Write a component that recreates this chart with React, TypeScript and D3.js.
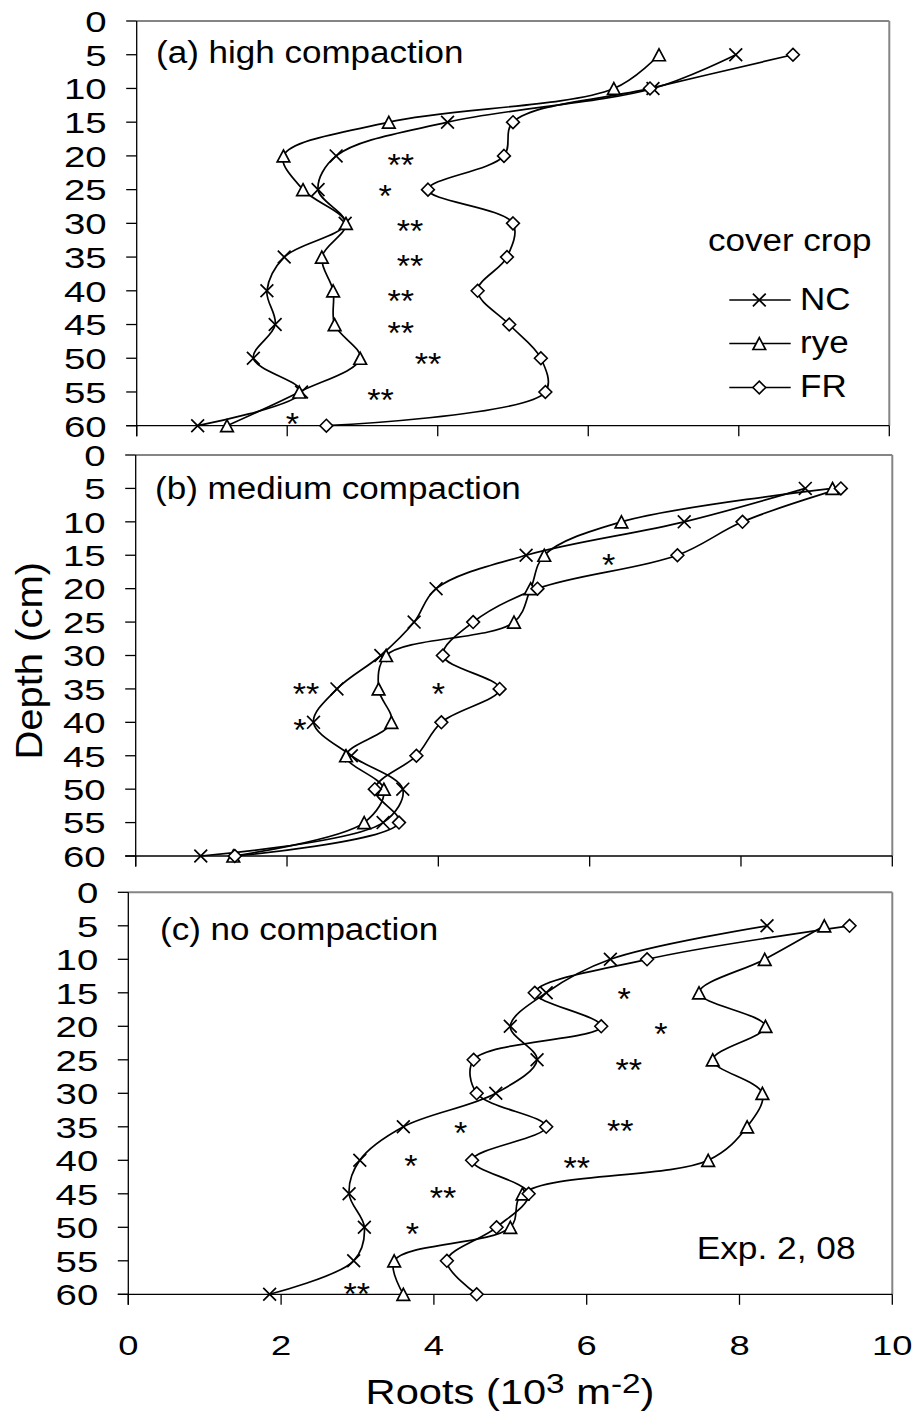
import React from 'react';
import * as d3 from 'd3';

// ---------- data ----------
const depths = [5, 10, 15, 20, 25, 30, 35, 40, 45, 50, 55, 60];
const yTicks = [0, 5, 10, 15, 20, 25, 30, 35, 40, 45, 50, 55, 60];
const xTicks = [0, 2, 4, 6, 8, 10];
const seriesNames = ['NC', 'rye', 'FR'];

// (a) high compaction
const highNC = [7.96, 6.86, 4.13, 2.65, 2.41, 2.77, 1.96, 1.73, 1.84, 1.55, 2.19, 0.81];
const highRye = [6.94, 6.34, 3.35, 1.95, 2.21, 2.78, 2.46, 2.61, 2.63, 2.97, 2.16, 1.2];
const highFR = [8.72, 6.82, 5.0, 4.88, 3.87, 5.0, 4.92, 4.53, 4.95, 5.37, 5.43, 2.52];

// (b) medium compaction
const medNC = [8.85, 7.25, 5.16, 3.97, 3.68, 3.24, 2.66, 2.35, 2.85, 3.53, 3.27, 0.86];
const medRye = [9.21, 6.42, 5.4, 5.22, 5.0, 3.31, 3.21, 3.38, 2.78, 3.28, 3.02, 1.29];
const medFR = [9.32, 8.02, 7.16, 5.31, 4.46, 4.06, 4.81, 4.04, 3.71, 3.16, 3.48, 1.31];

// (c) no compaction
const noNC = [8.36, 6.31, 5.47, 5.0, 5.35, 4.81, 3.6, 3.03, 2.89, 3.09, 2.95, 1.85];
const noRye = [9.11, 8.33, 7.47, 8.34, 7.65, 8.3, 8.1, 7.59, 5.16, 5.0, 3.48, 3.6];
const noFR = [9.44, 6.79, 5.32, 6.19, 4.52, 4.56, 5.47, 4.5, 5.24, 4.82, 4.17, 4.56];

// significance marks: [x value, depth, label]
const highStars: [number, number, string][] = [
  [3.51, 20.5, '**'], [3.3, 25, '*'], [3.63, 30.3, '**'], [3.63, 35.4, '**'],
  [3.51, 40.6, '**'], [3.51, 45.3, '**'], [3.87, 50, '**'], [3.24, 55.3, '**'], [2.07, 58.9, '*'],
];
const medStars: [number, number, string][] = [
  [6.25, 15.5, '*'], [2.25, 34.9, '**'], [4.0, 34.9, '*'], [2.17, 40.2, '*'],
];
const noStars: [number, number, string][] = [
  [6.49, 15.1, '*'], [6.97, 20.3, '*'], [6.55, 25.6, '**'], [6.44, 34.8, '**'],
  [5.87, 40.2, '**'], [4.35, 35, '*'], [3.7, 40, '*'], [4.12, 44.8, '**'],
  [3.72, 50.1, '*'], [2.99, 59, '**'],
];

const FONT = "'Liberation Sans', Arial, Helvetica, sans-serif";

function T({ x, y, size, sx = 1, anchor = 'start', rotate = 0, children }: any) {
  return (
    <text
      transform={`translate(${x},${y}) rotate(${rotate}) scale(${sx},1)`}
      fontSize={size}
      textAnchor={anchor}
      fontFamily={FONT}
      fill="#000"
    >
      {children}
    </text>
  );
}

function Marker({ kind, x, y }: { kind: string; x: number; y: number }) {
  const s = 6.4;
  if (kind === 'NC') {
    return (
      <path
        d={`M${x - s},${y - s}L${x + s},${y + s}M${x - s},${y + s}L${x + s},${y - s}`}
        stroke="#000"
        strokeWidth={1.7}
        fill="none"
      />
    );
  }
  if (kind === 'rye') {
    return (
      <path
        d={`M${x},${y - 5.9}L${x + 6.3},${y + 6}L${x - 6.3},${y + 6}Z`}
        stroke="#000"
        strokeWidth={1.7}
        fill="#fff"
      />
    );
  }
  return (
    <path
      d={`M${x},${y - s}L${x + s},${y}L${x},${y + s}L${x - s},${y}Z`}
      stroke="#000"
      strokeWidth={1.6}
      fill="#fff"
    />
  );
}

function Panel({ left, right, top, bottom, title, titleY, titleX, series, stars }: any) {
  const x = d3.scaleLinear().domain([0, 10]).range([left, right]);
  const y = d3.scaleLinear().domain([0, 60]).range([top, bottom]);
  const line = d3
    .line<[number, number]>()
    .x((d) => x(d[0]))
    .y((d) => y(d[1]))
    .curve(d3.curveCatmullRom.alpha(0.5));
  const tickLen = 10.5;
  return (
    <g>
      {/* frame */}
      <line x1={left} x2={right} y1={top} y2={top} stroke="#858585" strokeWidth={2} />
      <line x1={right} x2={right} y1={top} y2={bottom} stroke="#858585" strokeWidth={2} />
      {/* y axis */}
      <line x1={left} x2={left} y1={top} y2={bottom + tickLen} stroke="#000" strokeWidth={1.3} />
      {yTicks.map((t) => (
        <g key={'y' + t}>
          <line x1={left - tickLen} x2={left} y1={y(t)} y2={y(t)} stroke="#000" strokeWidth={1.3} />
          <T x={left - 30} y={y(t) + 10.8} size={30} sx={1.28} anchor="end">
            {t}
          </T>
        </g>
      ))}
      {/* x axis */}
      <line x1={left - tickLen} x2={right} y1={bottom} y2={bottom} stroke="#000" strokeWidth={1.3} />
      {xTicks.map((t) => (
        <line key={'x' + t} x1={x(t)} x2={x(t)} y1={bottom} y2={bottom + tickLen} stroke="#000" strokeWidth={1.3} />
      ))}
      <T x={titleX} y={titleY} size={31} sx={1.13}>
        {title}
      </T>
      {/* lines */}
      {series.map((s: any) => (
        <path
          key={'l' + s.name}
          d={line(s.values.map((v: number, i: number) => [v, depths[i]]) as [number, number][]) || ''}
          fill="none"
          stroke="#000"
          strokeWidth={1.7}
        />
      ))}
      {/* markers */}
      {series.map((s: any) =>
        s.values.map((v: number, i: number) => (
          <Marker key={s.name + i} kind={s.name} x={x(v)} y={y(depths[i])} />
        ))
      )}
      {/* significance */}
      {stars.map((s: [number, number, string], i: number) => (
        <T key={'s' + i} x={x(s[0])} y={y(s[1]) + 17} size={31} sx={1.1} anchor="middle">
          {s[2]}
        </T>
      ))}
    </g>
  );
}

export default function App() {
  const panels = [
    {
      left: 136.7, right: 889.3, top: 21, bottom: 425.7,
      title: '(a) high compaction', titleX: 156, titleY: 62.7,
      series: [
        { name: 'NC', values: highNC },
        { name: 'rye', values: highRye },
        { name: 'FR', values: highFR },
      ],
      stars: highStars,
    },
    {
      left: 135.7, right: 892.3, top: 455, bottom: 856,
      title: '(b) medium compaction', titleX: 155, titleY: 499,
      series: [
        { name: 'NC', values: medNC },
        { name: 'rye', values: medRye },
        { name: 'FR', values: medFR },
      ],
      stars: medStars,
    },
    {
      left: 128.3, right: 892.3, top: 892.3, bottom: 1294.3,
      title: '(c) no compaction', titleX: 160, titleY: 940,
      series: [
        { name: 'NC', values: noNC },
        { name: 'rye', values: noRye },
        { name: 'FR', values: noFR },
      ],
      stars: noStars,
    },
  ];
  const xb = d3.scaleLinear().domain([0, 10]).range([128.3, 892.3]);
  const legendY = [300, 343.5, 387.5];
  return (
    <svg
      width={916}
      height={1416}
      style={{ position: 'absolute', left: 0, top: 0, background: '#fff' }}
    >
      <rect x={0} y={0} width={916} height={1416} fill="#fff" />
      {panels.map((p, i) => (
        <Panel key={i} {...p} />
      ))}
      {/* legend (panel a) */}
      <T x={708} y={250.7} size={31} sx={1.13}>
        cover crop
      </T>
      {seriesNames.map((n, i) => (
        <g key={'lg' + n}>
          <line x1={729.3} x2={790.7} y1={legendY[i]} y2={legendY[i]} stroke="#000" strokeWidth={1.7} />
          <Marker kind={n} x={759.3} y={legendY[i]} />
          <T x={800} y={legendY[i] + 9.5} size={31} sx={1.13}>
            {n}
          </T>
        </g>
      ))}
      {/* experiment note */}
      <T x={696.7} y={1259.3} size={31.5} sx={1.12}>
        Exp. 2, 08
      </T>
      {/* x tick labels */}
      {xTicks.map((t) => (
        <T key={'xl' + t} x={xb(t)} y={1355} size={28} sx={1.3} anchor="middle">
          {t}
        </T>
      ))}
      {/* axis titles */}
      <T x={510} y={1404} size={35} sx={1.19} anchor="middle">
        Roots (10
        <tspan fontSize={28} dy={-11}>3</tspan>
        <tspan dy={11}> m</tspan>
        <tspan fontSize={28} dy={-11}>-2</tspan>
        <tspan dy={11}>)</tspan>
      </T>
      <T x={41.7} y={660.8} size={37} sx={1.08} anchor="middle" rotate={-90}>
        Depth (cm)
      </T>
    </svg>
  );
}
